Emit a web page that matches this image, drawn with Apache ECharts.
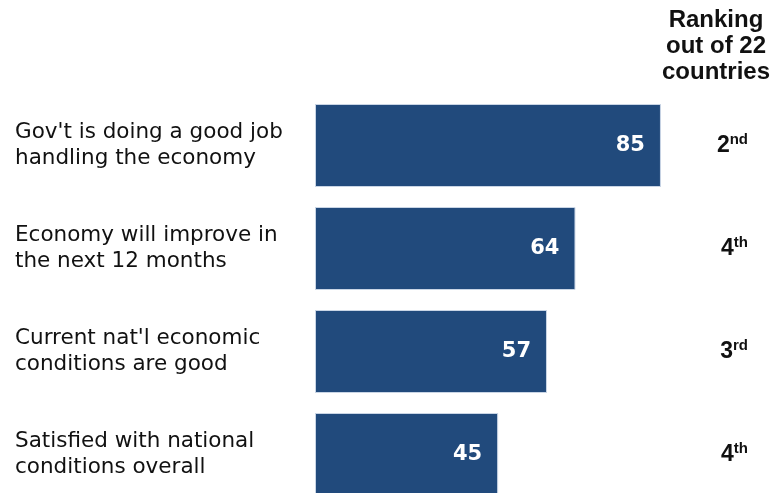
<!DOCTYPE html>
<html>
<head>
<meta charset="utf-8">
<script src="https://cdn.jsdelivr.net/npm/echarts@6/dist/echarts.min.js"></script>
<style>
html,body{margin:0;padding:0;background:#fff;}
#c{width:783px;height:493px;}
</style>
</head>
<body>
<div id="c"></div>
<script>
var categories = [
  "Gov't is doing a good job\nhandling the economy",
  "Economy will improve in\nthe next 12 months",
  "Current nat'l economic\nconditions are good",
  "Satisfied with national\nconditions overall"
];
var values = [85, 64, 57, 45];
var rankNumbers = ["2", "4", "3", "4"];
var rankSuffixes = ["nd", "th", "rd", "th"];
var headerText = "Ranking\nout of 22\ncountries";

var rankLabels = rankNumbers.map(function (n, i) { return n + "|" + rankSuffixes[i]; });

var chart = echarts.init(document.getElementById('c'), null, {renderer: 'canvas'});
chart.setOption({
  animation: false,
  backgroundColor: '#ffffff',
  graphic: [{
    type: 'text',
    x: 716,
    y: 7,
    style: {
      text: headerText,
      align: 'center',
      fill: '#111111',
      font: 'bold 24px "Liberation Sans", Arial, sans-serif',
      lineHeight: 26
    }
  }],
  grid: {left: 315, right: 61, top: 94, height: 412, containLabel: false, outerBoundsMode: 'none'},
  xAxis: {
    type: 'value', min: 0, max: 100, show: false
  },
  yAxis: [{
    type: 'category',
    data: categories,
    inverse: true,
    axisLine: {show: false},
    axisTick: {show: false},
    axisLabel: {
      align: 'left',
      margin: 300,
      padding: [5, 0, 0, 0],
      color: '#111111',
      fontFamily: '"DejaVu Sans", Verdana, sans-serif',
      fontSize: 21.5,
      lineHeight: 26
    }
  }, {
    type: 'category',
    data: rankLabels,
    inverse: true,
    position: 'right',
    axisLine: {show: false},
    axisTick: {show: false},
    axisLabel: {
      align: 'right',
      margin: 26,
      formatter: function (v) {
        var p = v.split('|');
        return '{n|' + p[0] + '}{s|' + p[1] + '}';
      },
      rich: {
        n: {fontFamily: '"Liberation Sans", Arial, sans-serif', fontWeight: 'bold', fontSize: 23, color: '#111111', lineHeight: 26},
        s: {fontFamily: '"Liberation Sans", Arial, sans-serif', fontWeight: 'bold', fontSize: 15, color: '#111111', lineHeight: 15, verticalAlign: 'top'}
      }
    }
  }],
  series: [{
    type: 'bar',
    yAxisIndex: 0,
    data: values,
    barWidth: 83,
    itemStyle: {color: '#214a7c', borderColor: '#c9d5e5', borderWidth: 1},
    label: {
      show: true,
      position: 'insideRight',
      distance: 16,
      color: '#ffffff',
      fontFamily: '"DejaVu Sans", Verdana, sans-serif',
      fontWeight: 'bold',
      fontSize: 21
    }
  }]
});
</script>
</body>
</html>
